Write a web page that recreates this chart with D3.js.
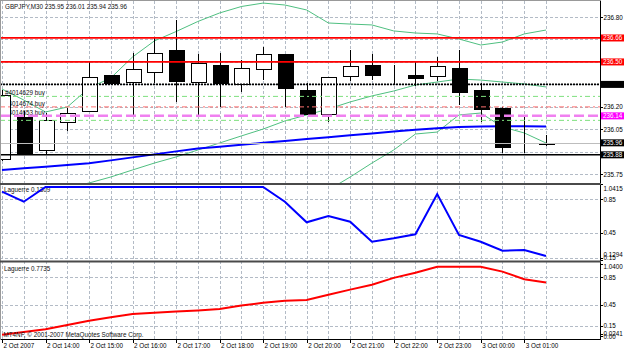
<!DOCTYPE html>
<html>
<head>
<meta charset="utf-8">
<script src="https://cdn.jsdelivr.net/npm/d3@7"></script>
<style>
	html, body { margin: 0; padding: 0; background: #fff; }
	svg { display: block; font-family: 'Liberation Sans', Arial, sans-serif; font-size: 6.3px; }
	.grid line { stroke: #b3bbc6; stroke-width: 1; stroke-dasharray: 3,2; shape-rendering: crispEdges; }
	.band { fill: none; stroke: #4fbf80; stroke-width: 1; }
	.ma { fill: none; stroke: #0000ff; stroke-width: 2; }
	.lag1 { fill: none; stroke: #0000ff; stroke-width: 2; }
	.lag2 { fill: none; stroke: #ff0000; stroke-width: 2; }
	.wick { stroke: #000; stroke-width: 1; shape-rendering: crispEdges; }
	.body { stroke: #000; stroke-width: 1; shape-rendering: crispEdges; }
	.axis path.domain { display: none; }
	.axis line { stroke: #000; shape-rendering: crispEdges; }
	.axis text { fill: #000; font-size: 6.3px; }
	.frame { stroke: #000; shape-rendering: crispEdges; }
</style>
</head>
<body>
<svg id="chart" width="625" height="351"></svg>
<script>
const bars = ['2 Oct 13:00', '2 Oct 13:30', '2 Oct 14:00', '2 Oct 14:30', '2 Oct 15:00', '2 Oct 15:30', '2 Oct 16:00', '2 Oct 16:30',
	'2 Oct 17:00', '2 Oct 17:30', '2 Oct 18:00', '2 Oct 18:30', '2 Oct 19:00', '2 Oct 19:30', '2 Oct 20:00', '2 Oct 20:30',
	'2 Oct 21:00', '2 Oct 21:30', '2 Oct 22:00', '2 Oct 22:30', '2 Oct 23:00', '2 Oct 23:30', '3 Oct 00:00', '3 Oct 00:30',
	'3 Oct 01:00', '3 Oct 01:30'];

const open  = [235.85, 236.13, 235.91, 236.10, 236.17, 236.41, 236.36, 236.43, 236.58, 236.36, 236.48, 236.35, 236.45,
	236.55, 236.31, 236.15, 236.40, 236.48, 236.42, 236.41, 236.40, 236.46, 236.31, 236.19, 235.93, 235.95];
const high  = [236.31, 236.17, 236.16, 236.19, 236.50, 236.41, 236.56, 236.66, 236.78, 236.55, 236.56, 236.51, 236.60,
	236.55, 236.36, 236.40, 236.58, 236.55, 236.48, 236.50, 236.53, 236.58, 236.36, 236.20, 236.13, 236.01];
const low   = [235.84, 235.885, 235.885, 236.04, 236.17, 236.355, 236.13, 236.36, 236.23, 236.13, 236.20, 236.30, 236.38,
	236.20, 236.15, 236.10, 236.37, 236.38, 236.35, 236.34, 236.37, 236.21, 236.10, 235.89, 235.89, 235.94];
const close = [236.28, 235.885, 236.11, 236.16, 236.40, 236.355, 236.45, 236.56, 236.37, 236.49, 236.36, 236.46, 236.55,
	236.32, 236.15, 236.40, 236.47, 236.41, 236.42, 236.39, 236.47, 236.30, 236.18, 235.93, 235.93, 235.96];

const bbUpper = [236.319, 236.246, 236.166, 236.199, 236.326, 236.393, 236.533, 236.640, 236.703, 236.770, 236.827, 236.870,
	236.893, 236.880, 236.847, 236.760, 236.753, 236.747, 236.707, 236.693, 236.687, 236.653, 236.613, 236.633, 236.687, 236.713];
const bbMiddle = [null, null, null, 235.66, 235.692, 235.732, 235.779, 235.825, 235.866, 235.912, 235.959, 236.006, 236.052,
	236.106, 236.146, 236.186, 236.233, 236.273, 236.306, 236.346, 236.366, 236.386, 236.379, 236.366, 236.353, 236.333];
const bbLower = [null, null, null, null, null, null, null, null, null, null, null, null, null,
	235.45, 235.55, 235.645, 235.732, 235.825, 235.912, 236.019, 236.032, 236.146, 236.159, 236.066, 236.026, 235.959];
const maSlow = [235.779, 235.790, 235.801, 235.812, 235.823, 235.843, 235.863, 235.883, 235.903, 235.922, 235.934, 235.947,
	235.960, 235.973, 235.985, 235.998, 236.010, 236.023, 236.036, 236.048, 236.058, 236.066, 236.069, 236.070, 236.070, 236.069];

const laguerreFast = [0.943, 0.823, 1, 1, 1, 1, 1, 1, 1, 1, 1, 1, 1, 0.823, 0.576, 0.651, 0.583, 0.343, 0.384, 0.432,
	0.915, 0.423, 0.343, 0.235, 0.243, 0.171];
const laguerreSlow = [0.02, 0.06, 0.10, 0.16, 0.22, 0.27, 0.32, 0.335, 0.354, 0.37, 0.39, 0.44, 0.48, 0.51, 0.52, 0.595,
	0.67, 0.74, 0.84, 0.915, 1, 1, 1, 0.93, 0.82, 0.7735];

const redLevels = [236.66, 236.50];
const stopLevel = 236.35;
const bidLevel = 235.96;
const lowLevel = 235.88;
const orderLevels = [236.27, 236.20, 236.14, 236.11];
const orderNames = ['#4014629 buy', '#4014674 buy', '#4014653 buy', ''];
const boxLevels = [236.66, 236.50, 236.35, 236.14, 235.96, 235.88];

const priceGrid = [236.80, 236.65, 236.50, 236.35, 236.20, 236.05, 235.90, 235.75];
const priceLabels = [236.80, 236.20, 236.05, 235.75];
const lagFastTicks = [1.0415, 0.85, 0.45, 0.15, 0.1294];
const lagFastTickText = ['1.0415', '0.85', '0.45', '0.15', '0.1294'];
const lagSlowTicks = [1.04, 0.85, 0.45, 0.15, 0.0241, 0];
const lagSlowTickText = ['1.0400', '0.85', '0.45', '0.15', '0.0241', '0.00'];
const lagGridTicks = [0.85, 0.45, 0.15];

const timeTickBars = ['2 Oct 13:00', '2 Oct 14:00', '2 Oct 15:00', '2 Oct 16:00', '2 Oct 17:00', '2 Oct 18:00', '2 Oct 19:00',
	'2 Oct 20:00', '2 Oct 21:00', '2 Oct 22:00', '2 Oct 23:00', '3 Oct 00:00', '3 Oct 01:00'];
const timeTickText = ['2 Oct 2007', '2 Oct 14:00', '2 Oct 15:00', '2 Oct 16:00', '2 Oct 17:00', '2 Oct 18:00', '2 Oct 19:00',
	'2 Oct 20:00', '2 Oct 21:00', '2 Oct 22:00', '2 Oct 23:00', '3 Oct 00:00', '3 Oct 01:00'];

const titleText = 'GBPJPY,M30  235.95 236.01 235.94 235.96';
const lagFastName = 'Laguerre 0.1309';
const lagSlowName = 'Laguerre 0.7735';
const copyright = 'MT4NF, \u00a9 2001-2007 MetaQuotes Software Corp.';

const svg = d3.select('svg#chart');
const right = 600.5;
const panels = { main: [1, 183], fast: [185, 260.5], slow: [262.5, 339] };

const x = d3.scalePoint(bars, [2, 546]);
const px = d => Math.round(x(d)) + 0.5;
const yMain = d3.scaleLinear([236.80, 235.75], [17, 174.3]);
const yFast = d3.scaleLinear([1.0415, 0.1294], [183.5, 259.5]);
const ySlow = d3.scaleLinear([1.04, 0.0241], [264, 334.4]);
const crisp = v => Math.round(v) + 0.5;

const defs = svg.append('defs');
Object.entries(panels).forEach(([k, [y0, y1]]) => {
	defs.append('clipPath').attr('id', `clip-${k}`)
		.append('rect').attr('x', 0).attr('y', y0).attr('width', right).attr('height', y1 - y0);
});

svg.append('rect').attr('width', 625).attr('height', 351).attr('fill', '#fff');

// grid
const grid = svg.append('g').attr('class', 'grid');
grid.append('g').selectAll('line').data(bars).join('line')
	.attr('x1', px).attr('x2', px).attr('y1', 1).attr('y2', 339);
grid.append('g').selectAll('line').data(priceGrid).join('line')
	.attr('x1', 0).attr('x2', right).attr('y1', d => crisp(yMain(d))).attr('y2', d => crisp(yMain(d)));
grid.append('g').selectAll('line').data(lagGridTicks).join('line')
	.attr('x1', 0).attr('x2', right).attr('y1', d => crisp(yFast(d))).attr('y2', d => crisp(yFast(d)));
grid.append('g').selectAll('line').data(lagGridTicks).join('line')
	.attr('x1', 0).attr('x2', right).attr('y1', d => crisp(ySlow(d))).attr('y2', d => crisp(ySlow(d)));

// main panel
const main = svg.append('g').attr('clip-path', 'url(#clip-main)');
const lineOf = yS => d3.line().defined(d => d[1] != null).x(d => x(d[0])).y(d => yS(d[1]));

main.append('text').attr('x', 5).attr('y', 9).attr('fill', '#111').text(titleText);

[bbUpper, bbMiddle, bbLower].forEach(s => {
	main.append('path').attr('class', 'band').datum(d3.zip(bars, s)).attr('d', lineOf(yMain));
});
main.append('path').attr('class', 'ma').datum(d3.zip(bars, maSlow)).attr('d', lineOf(yMain));

const orderStyles = [
	{ stroke: '#7fe07f', width: 1, dash: '5,3,2,3' },
	{ stroke: '#ff7070', width: 1, dash: '5,3,2,3' },
	{ stroke: '#f080f0', width: 2.5, dash: '10,4' },
	{ stroke: '#7fe07f', width: 1, dash: '5,3,2,3' },
];

main.append('g').selectAll('text').data(orderNames).join('text')
	.attr('x', 5)
	.attr('y', (d, i) => yMain(orderLevels[i]) - 1.2)
	.attr('fill', '#111')
	.text(d => d);

const candles = main.append('g').selectAll('g').data(bars).join('g');
candles.append('line').attr('class', 'wick')
	.attr('x1', px).attr('x2', px)
	.attr('y1', (d, i) => yMain(high[i])).attr('y2', (d, i) => yMain(low[i]));
candles.append('rect').attr('class', 'body')
	.attr('x', d => Math.round(x(d)) - 7 + 0.5)
	.attr('width', 15)
	.attr('y', (d, i) => crisp(yMain(Math.max(open[i], close[i]))))
	.attr('height', (d, i) => Math.max(0, Math.round(Math.abs(yMain(open[i]) - yMain(close[i])))))
	.attr('fill', (d, i) => close[i] >= open[i] ? '#fff' : '#000');

main.append('g').selectAll('line').data(orderLevels).join('line')
	.attr('x1', 0).attr('x2', right)
	.attr('y1', d => yMain(d)).attr('y2', d => yMain(d))
	.attr('stroke', (d, i) => orderStyles[i].stroke)
	.attr('stroke-width', (d, i) => orderStyles[i].width)
	.attr('stroke-dasharray', (d, i) => orderStyles[i].dash);

main.append('line')
	.attr('x1', 0).attr('x2', right).attr('y1', crisp(yMain(bidLevel))).attr('y2', crisp(yMain(bidLevel)))
	.attr('stroke', '#bdbdbd').attr('stroke-width', 1);
main.append('line')
	.attr('x1', 0).attr('x2', right).attr('y1', yMain(stopLevel)).attr('y2', yMain(stopLevel))
	.attr('stroke', '#000').attr('stroke-width', 1.6).attr('stroke-dasharray', '2,1');
main.append('line')
	.attr('x1', 0).attr('x2', right).attr('y1', yMain(lowLevel)).attr('y2', yMain(lowLevel))
	.attr('stroke', '#000').attr('stroke-width', 1.6);
main.append('g').selectAll('line').data(redLevels).join('line')
	.attr('x1', 0).attr('x2', right).attr('y1', d => yMain(d)).attr('y2', d => yMain(d))
	.attr('stroke', '#ff0000').attr('stroke-width', 1.7);

// indicator panels
const fast = svg.append('g').attr('clip-path', 'url(#clip-fast)');
fast.append('text').attr('x', 4).attr('y', 192).attr('fill', '#111').text(lagFastName);
fast.append('path').attr('class', 'lag1').datum(d3.zip(bars, laguerreFast)).attr('d', lineOf(yFast));

const slow = svg.append('g').attr('clip-path', 'url(#clip-slow)');
slow.append('text').attr('x', 4).attr('y', 270.5).attr('fill', '#111').text(lagSlowName);
slow.append('path').attr('class', 'lag2').datum(d3.zip(bars, laguerreSlow)).attr('d', lineOf(ySlow));
slow.append('text').attr('x', 3.5).attr('y', 337.3).attr('fill', '#111').text(copyright);

// axes
svg.append('g').attr('class', 'axis').attr('transform', `translate(${right},0)`)
	.call(d3.axisRight(yMain).tickValues(priceLabels).tickSize(2).tickPadding(1).tickFormat(d3.format('.2f')));

const fastAxis = svg.append('g').attr('class', 'axis').attr('transform', `translate(${right},0)`)
	.call(d3.axisRight(yFast).tickValues(lagFastTicks).tickSize(2).tickPadding(1).tickFormat((d, i) => lagFastTickText[i]));
fastAxis.selectAll('text').attr('dy', d => d === 1.0415 ? '1.05em' : d === 0.1294 ? '-0.55em' : '0.32em');

const slowAxis = svg.append('g').attr('class', 'axis').attr('transform', `translate(${right},0)`)
	.call(d3.axisRight(ySlow).tickValues(lagSlowTicks).tickSize(2).tickPadding(1).tickFormat((d, i) => lagSlowTickText[i]));
slowAxis.selectAll('text').attr('dy', d => d === 1.04 ? '0.75em' : d === 0.0241 ? '0.1em' : d === 0 ? '0.45em' : '0.32em');

const timeAxis = svg.append('g').attr('class', 'axis').attr('transform', 'translate(0,339.5)')
	.call(d3.axisBottom(x).tickValues(timeTickBars).tickSize(3).tickPadding(1).tickFormat((d, i) => timeTickText[i]));
timeAxis.selectAll('text').attr('text-anchor', 'start').attr('x', 1);

// price boxes
const boxFill = ['#ff0000', '#ff0000', '#000', '#ff00ff', '#000', '#000'];
const boxes = svg.append('g').selectAll('g').data(boxLevels).join('g')
	.attr('transform', d => `translate(${right + 0.5},${yMain(d)})`);
boxes.append('rect').attr('x', 0).attr('y', -3.5).attr('width', 23).attr('height', 7)
	.attr('fill', (d, i) => boxFill[i]);
boxes.append('text').attr('x', 2).attr('dy', '0.35em')
	.attr('fill', d => d === stopLevel ? '#000' : '#fff')
	.text(d => d3.format('.2f')(d));

// frame
const frame = svg.append('g').attr('class', 'frame');
frame.append('line').attr('x1', right).attr('x2', right).attr('y1', 0).attr('y2', 339.5);
frame.append('line').attr('x1', 0).attr('x2', right).attr('y1', 339.5).attr('y2', 339.5);
frame.append('line').attr('x1', 0).attr('x2', right).attr('y1', 0.5).attr('y2', 0.5).attr('stroke', '#999');
frame.append('line').attr('x1', 0.5).attr('x2', 0.5).attr('y1', 0).attr('y2', 339.5).attr('stroke', '#999');
[184, 261.5].forEach(y => {
	frame.append('line').attr('x1', 0).attr('x2', right + 0.5).attr('y1', y).attr('y2', y)
		.attr('stroke', '#4a4a4a').attr('stroke-width', 2).style('shape-rendering', 'auto');
});
</script>
</body>
</html>
